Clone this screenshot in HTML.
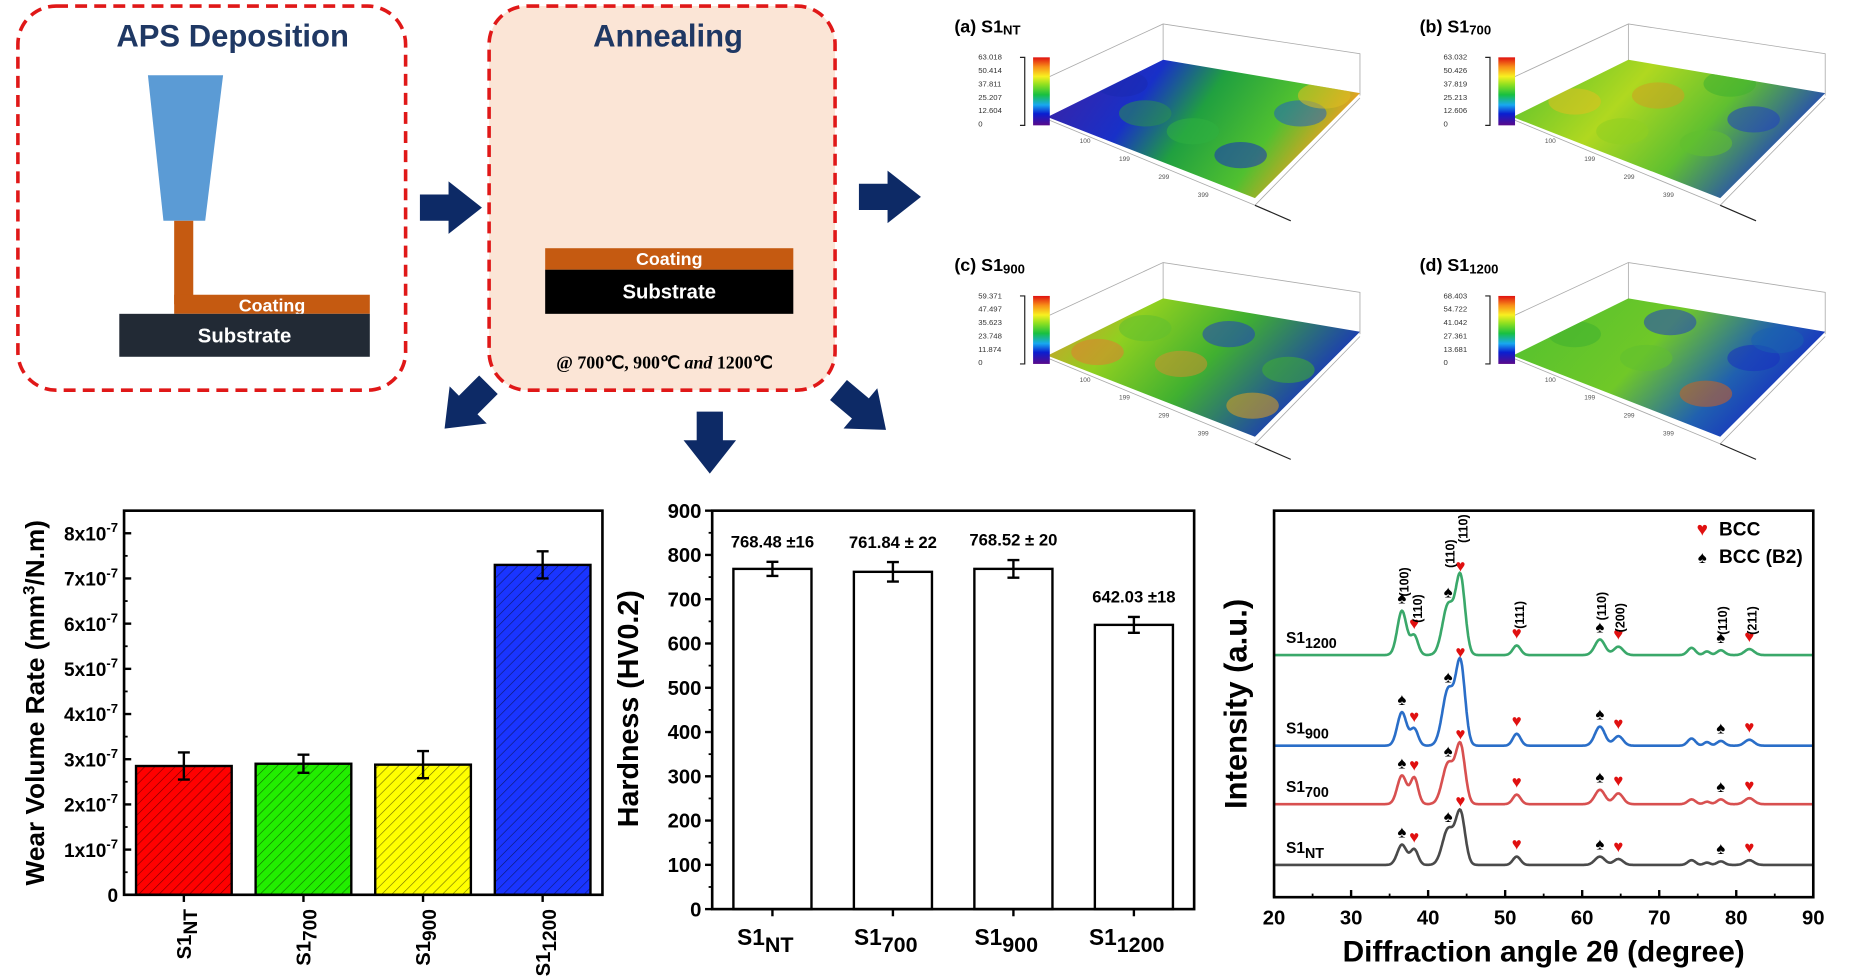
<!DOCTYPE html>
<html><head><meta charset="utf-8">
<style>
html,body{margin:0;padding:0;background:#fff;}
svg{display:block;font-family:"Liberation Sans",Arial,sans-serif;}
.b{font-weight:bold;}
</style></head>
<body>
<svg id="fig" width="1861" height="976" viewBox="0 0 1560 818" xmlns="http://www.w3.org/2000/svg">
<defs>
<pattern id="hatch" patternUnits="userSpaceOnUse" width="6" height="6" patternTransform="rotate(45)">
<line x1="0" y1="0" x2="0" y2="6" stroke="#000" stroke-width="1" opacity="0.55"/>
</pattern>
<linearGradient id="cbar" x1="0" y1="1" x2="0" y2="0">
<stop offset="0" stop-color="#5a0a8a"/><stop offset="0.17" stop-color="#0a1ed0"/><stop offset="0.3" stop-color="#18a8f0"/><stop offset="0.45" stop-color="#18c040"/><stop offset="0.6" stop-color="#90e020"/><stop offset="0.72" stop-color="#f8f020"/><stop offset="0.86" stop-color="#f89018"/><stop offset="1" stop-color="#e01010"/>
</linearGradient>
<linearGradient id="sa" x1="0" y1="0" x2="1" y2="0.3"><stop offset="0" stop-color="#4020a0"/><stop offset="0.35" stop-color="#1830c8"/><stop offset="0.55" stop-color="#20a040"/><stop offset="0.8" stop-color="#50c030"/><stop offset="1" stop-color="#f0a020"/></linearGradient>
<linearGradient id="sb" x1="0" y1="0" x2="1" y2="0.4"><stop offset="0" stop-color="#50c030"/><stop offset="0.4" stop-color="#b0d820"/><stop offset="0.7" stop-color="#60c030"/><stop offset="1" stop-color="#2040c0"/></linearGradient>
<linearGradient id="sc" x1="0" y1="0" x2="1" y2="0.4"><stop offset="0" stop-color="#e09030"/><stop offset="0.3" stop-color="#90d020"/><stop offset="0.6" stop-color="#40b030"/><stop offset="1" stop-color="#1830c0"/></linearGradient>
<linearGradient id="sd" x1="0" y1="0" x2="1" y2="0.4"><stop offset="0" stop-color="#50c030"/><stop offset="0.5" stop-color="#70c828"/><stop offset="0.8" stop-color="#2060b0"/><stop offset="1" stop-color="#1830c0"/></linearGradient>
<clipPath id="surfclip"><polygon points="878,98 975,50 1140,78 1052,166"/></clipPath>
</defs>

<g>
<rect x="15" y="5" width="325" height="322" rx="32" fill="#fff" stroke="#e01818" stroke-width="3" stroke-dasharray="10,6"/>
<text x="195" y="39" text-anchor="middle" font-size="26" class="b" fill="#1f3864">APS Deposition</text>
<polygon points="124,63 187,63 172,185 137,185" fill="#5b9bd5"/>
<rect x="146" y="185" width="16" height="70" fill="#c55a11"/>
<rect x="146" y="247" width="164" height="16" fill="#c55a11"/>
<text x="228" y="261" text-anchor="middle" font-size="15" class="b" fill="#fff">Coating</text>
<rect x="100" y="263" width="210" height="36" fill="#222a35"/>
<text x="205" y="287" text-anchor="middle" font-size="17" class="b" fill="#fff">Substrate</text>
</g>
<g>
<rect x="410" y="5" width="290" height="322" rx="32" fill="#fbe5d6" stroke="#e01818" stroke-width="3" stroke-dasharray="10,6"/>
<text x="560" y="39" text-anchor="middle" font-size="26" class="b" fill="#1f3864">Annealing</text>
<rect x="457" y="208" width="208" height="18" fill="#c55a11"/>
<text x="561" y="222" text-anchor="middle" font-size="15" class="b" fill="#fff">Coating</text>
<rect x="457" y="226" width="208" height="37" fill="#000"/>
<text x="561" y="250" text-anchor="middle" font-size="17" class="b" fill="#fff">Substrate</text>
<text x="557" y="309" text-anchor="middle" font-size="15" font-family="Liberation Serif,serif" font-weight="bold">@ 700℃, 900℃ <tspan font-style="italic">and</tspan> 1200℃</text>
</g>

<g fill="#0d2a66">
<polygon points="0,11 24,11 24,0 52,22 24,44 24,33 0,33" transform="translate(352,152)"/>
<polygon points="0,11 24,11 24,0 52,22 24,44 24,33 0,33" transform="translate(720,143)"/>
<polygon points="0,11 24,11 24,0 52,22 24,44 24,33 0,33" transform="translate(425,338) rotate(135)"/>
<polygon points="0,11 24,11 24,0 52,22 24,44 24,33 0,33" transform="translate(617,345) rotate(90)"/>
<polygon points="0,11 24,11 24,0 52,22 24,44 24,33 0,33" transform="translate(717,310) rotate(40)"/>
</g>

<g id="surfaces"></g>
<g id="wear"></g>
<g id="hard"></g>
<g id="xrd"></g>
</svg>

<script>
const wearCats = ["NT","700","900","1200"];
const wearVals = [2.85,2.90,2.88,7.30];
const wearErr = [0.30,0.20,0.30,0.30];
const wearTicks = [0,1,2,3,4,5,6,7,8];
const wearColors = ["#ff0000","#22ee00","#ffff00","#1a35ff"];
const hardCats = ["NT","700","900","1200"];
const hardVals = [768.48,761.84,768.52,642.03];
const hardErr = [16,22,20,18];
const hardLabels = ["768.48 \u00b116","761.84 \u00b1 22","768.52 \u00b1 20","642.03 \u00b118"];
const hardTicks = [0,100,200,300,400,500,600,700,800,900];
const xrdTicks = [20,30,40,50,60,70,80,90];
const xrdNames = ["1200","900","700","NT"];
const xrdColors = ["#3aa86a","#2a6ec8","#d85050","#4a4a4a"];
const xrdBase = [549,625,674,725];
const peakPos = [36.6,38.2,42.6,44.2,51.5,62.3,64.7,74.2,76.2,78.0,81.7];
const peakH1200 = [37,16,42,64,8,13,7,6,3,4,5];
const peakH900 = [28,14,47,68,10,16,8,6,3,4,5];
const peakH700 = [24,22,34,48,8,12,9,4,2,4,5];
const peakHNT = [17,13,30,43,7,7,5,4,2,3,4];
const surfLabels = [["(a) S1","NT"],["(b) S1","700"],["(c) S1","900"],["(d) S1","1200"]];
const surfMax = ["63.018","63.032","59.371","68.403"];

const NS="http://www.w3.org/2000/svg";
function mk(parent,tag,attrs,txt){const e=document.createElementNS(NS,tag);for(const k in attrs)e.setAttribute(k,attrs[k]);if(txt!==undefined)e.textContent=txt;parent.appendChild(e);return e;}

(function(){
 const g=document.getElementById('surfaces');
 const offs=[[0,0],[390,0],[0,200],[390,200]];
 const fills=["url(#sa)","url(#sb)","url(#sc)","url(#sd)"];
 const blobs=[
  [[940,70,"#1a2ab0"],[1000,110,"#30b040"],[1040,130,"#1830c0"],[1090,95,"#2060c0"],[960,95,"#2a9050"],[1110,80,"#e0c020"]],
  [[930,85,"#e0c020"],[1000,80,"#d0a020"],[1040,120,"#60c030"],[1080,100,"#2040c0"],[970,110,"#90d020"],[1060,70,"#40b030"]],
  [[920,95,"#e08030"],[990,105,"#d09030"],[1030,80,"#2040c0"],[1080,110,"#40b030"],[1050,140,"#e0a020"],[960,75,"#60c030"]],
  [[930,80,"#40b030"],[990,100,"#60c030"],[1040,130,"#d06020"],[1080,100,"#1830c0"],[1010,70,"#2040c0"],[1100,85,"#1a60b0"]]
 ];
 offs.forEach((o,i)=>{
  const pg=mk(g,'g',{transform:`translate(${o[0]},${o[1]})`});
  
  
  const t=mk(pg,'text',{x:800,y:27,'font-size':15,'font-weight':'bold'});
  t.textContent=surfLabels[i][0];
  mk(t,'tspan',{'font-size':11,dy:2},surfLabels[i][1]);
  mk(pg,'polyline',{points:"878,65 975,20 1140,45 1140,80",fill:"none",stroke:"#aaa","stroke-width":0.7});
  mk(pg,'line',{x1:975,y1:20,x2:975,y2:58,stroke:"#aaa","stroke-width":0.7});
  mk(pg,'line',{x1:878,y1:65,x2:878,y2:100,stroke:"#aaa","stroke-width":0.7});
  mk(pg,'polygon',{points:"878,98 975,50 1140,78 1052,166",fill:fills[i]});
  const bg=mk(pg,'g',{'clip-path':'url(#surfclip)'});
  blobs[i].forEach(b=>{mk(bg,'ellipse',{cx:b[0],cy:b[1],rx:22,ry:11,fill:b[2],opacity:0.55});});
  mk(pg,'polyline',{points:"878,100 1052,172 1140,82",fill:"none",stroke:"#aaa","stroke-width":0.7});
  mk(pg,'line',{x1:1052,y1:172,x2:1082,y2:185,stroke:"#222","stroke-width":1});
  mk(pg,'rect',{x:866,y:48,width:14,height:57,fill:"url(#cbar)"});
  mk(pg,'path',{d:"M855,48 h4 v57 h-4",fill:"none",stroke:"#222","stroke-width":1});
  [0,1,2,3,4,5].forEach(k=>{
   const lab = k===5?"0":(parseFloat(surfMax[i])*(5-k)/5).toFixed(3);
   mk(pg,'text',{x:820,y:50+k*11.2,'font-size':6.5,fill:"#333"},lab);
  });
  ["100","199","299","399"].forEach((v,k)=>{mk(pg,'text',{x:905+k*33,y:120+k*15,'font-size':5.5,fill:"#555"},v);});
 });
})();

(function(){
 const g=document.getElementById('wear');
 const L=104,R=505,T=428,B=750,ymax=8.5;
 const y=v=>B-(v/ymax)*(B-T);
 const xc=i=>L+(R-L)*(0.125+0.25*i);
 const bw=(R-L)*0.2;
 wearVals.forEach((v,i)=>{
  const r=mk(g,'rect',{x:xc(i)-bw/2,y:y(v),width:bw,height:B-y(v),fill:wearColors[i],stroke:"#000","stroke-width":2});
  
  
  mk(g,'rect',{x:xc(i)-bw/2,y:y(v),width:bw,height:B-y(v),fill:"url(#hatch)"});
  const e=mk(g,'path',{d:`M${xc(i)},${y(v+wearErr[i])}V${y(v-wearErr[i])}M${xc(i)-5},${y(v+wearErr[i])}h10M${xc(i)-5},${y(v-wearErr[i])}h10`,stroke:"#000","stroke-width":2,fill:"none"});
  
  
  const t=mk(g,'text',{transform:`translate(${xc(i)+6},${B+12}) rotate(-90)`,'text-anchor':'end','font-size':17,'font-weight':'bold'});
  
  
  t.textContent="S1";
  mk(t,'tspan',{dy:5,'font-size':16},wearCats[i]);
 });
 mk(g,'rect',{x:L,y:T,width:R-L,height:B-T,fill:"none",stroke:"#000","stroke-width":2.2});
 wearTicks.forEach(v=>{
  mk(g,'line',{x1:L,x2:L+6,y1:y(v),y2:y(v),stroke:"#000","stroke-width":2});
  mk(g,'line',{x1:L,x2:L+3,y1:y(v+0.5),y2:y(v+0.5),stroke:"#000","stroke-width":1.5});
  const t=mk(g,'text',{x:L-5,y:y(v)+6,'text-anchor':'end','font-size':16,'font-weight':'bold'});
  
  
  if(v===0){t.textContent="0";}else{t.textContent=v+"x10";mk(t,'tspan',{dy:-7,'font-size':11},"-7");}
 });
 wearCats.forEach((c,i)=>{mk(g,'line',{x1:xc(i),x2:xc(i),y1:B,y2:B+6,stroke:"#000","stroke-width":2});});
 const yt=mk(g,'text',{transform:"translate(37,589) rotate(-90)",'text-anchor':'middle','font-size':22,'font-weight':'bold'});
 
 
 yt.textContent="Wear Volume Rate (mm";
 mk(yt,'tspan',{dy:-8,'font-size':14},"3");
 mk(yt,'tspan',{dy:8},"/N.m)");
})();

(function(){
 const g=document.getElementById('hard');
 const L=597,R=1001,T=428,B=762,ymax=900;
 const y=v=>B-(v/ymax)*(B-T);
 const xc=i=>L+(R-L)*(0.125+0.25*i);
 const bw=(R-L)*0.162;
 hardVals.forEach((v,i)=>{
  const r=mk(g,'rect',{x:xc(i)-bw/2,y:y(v),width:bw,height:B-y(v),fill:"#fff",stroke:"#000","stroke-width":2});
  
  
  const e=mk(g,'path',{d:`M${xc(i)},${y(v+hardErr[i])}V${y(v-hardErr[i])}M${xc(i)-5},${y(v+hardErr[i])}h10M${xc(i)-5},${y(v-hardErr[i])}h10`,stroke:"#000","stroke-width":2,fill:"none"});
  
  
  const vl=mk(g,'text',{x:xc(i),y:y(v+hardErr[i])-12,'text-anchor':'middle','font-size':14,'font-weight':'bold'},hardLabels[i]);
  
  
  const t=mk(g,'text',{x:xc(i)-6,y:B+30,'text-anchor':'middle','font-size':19,'font-weight':'bold'});
  
  
  t.textContent="S1";
  mk(t,'tspan',{dy:6,'font-size':18},hardCats[i]);
  mk(g,'line',{x1:xc(i),x2:xc(i),y1:B,y2:B+6,stroke:"#000","stroke-width":2});
 });
 mk(g,'rect',{x:L,y:T,width:R-L,height:B-T,fill:"none",stroke:"#000","stroke-width":2.2});
 hardTicks.forEach(v=>{
  mk(g,'line',{x1:L-6,x2:L,y1:y(v),y2:y(v),stroke:"#000","stroke-width":2});
  if(v<900)mk(g,'line',{x1:L-3,x2:L,y1:y(v+50),y2:y(v+50),stroke:"#000","stroke-width":1.5});
  const t=mk(g,'text',{x:L-9,y:y(v)+6,'text-anchor':'end','font-size':17,'font-weight':'bold'},String(v));
  
  
 });
 const yt=mk(g,'text',{transform:"translate(535,594) rotate(-90)",'text-anchor':'middle','font-size':24,'font-weight':'bold'});
 
 
 yt.textContent="Hardness (HV0.2)";
})();

(function(){
 const g=document.getElementById('xrd');
 const L=1068,R=1520,T=428,B=752;
 const x=v=>L+(v-20)/70*(R-L);
 const heights=[peakH1200,peakH900,peakH700,peakHNT];
 const widths=[0.6,0.5,0.75,0.6,0.5,0.65,0.6,0.5,0.4,0.5,0.6];
 heights.forEach((hs,s)=>{
  let d="";
  for(let k=0;k<=700;k++){
   const tt=20+k*0.1;
   let v=0;
   peakPos.forEach((p,j)=>{v+=hs[j]*Math.exp(-((tt-p)*(tt-p))/(2*widths[j]*widths[j]));});
   d+=(k?"L":"M")+x(tt).toFixed(1)+","+(xrdBase[s]-v).toFixed(1);
  }
  const p=mk(g,'path',{d:d,fill:"none",stroke:xrdColors[s],"stroke-width":2.2});
  
  
  const t=mk(g,'text',{x:1078,y:xrdBase[s]-10,'font-size':13,'font-weight':'bold'});
  
  
  t.textContent="S1";
  mk(t,'tspan',{dy:4,'font-size':12},xrdNames[s]);
  const marks=[[0,"s"],[1,"h"],[2,"s"],[3,"h"],[4,"h"],[5,"s"],[6,"h"],[9,"s"],[10,"h"]];
  marks.forEach(m=>{
   const j=m[0];
   const yy=xrdBase[s]-hs[j]-6;
   const mm=mk(g,'text',{x:x(peakPos[j]),y:yy,'text-anchor':'middle','font-size':14,fill:m[1]==="h"?"#e01010":"#000"},m[1]==="h"?"\u2665":"\u2660");
   
   
  });
 });
 const miller=[[36.8,"(100)",500],[38.6,"(110)",522],[42.8,"(110)",476],[44.5,"(110)",455],[51.8,"(111)",527],[62.5,"(110)",520],[64.9,"(200)",530],[78.2,"(110)",532],[82.0,"(211)",532]];
 miller.forEach(m=>{
  const t=mk(g,'text',{transform:`translate(${x(m[0])+4},${m[2]}) rotate(-90)`,'font-size':10.5,'font-weight':'bold'},m[1]);
  
  
 });
 mk(g,'rect',{x:L,y:T,width:R-L,height:B-T,fill:"none",stroke:"#000","stroke-width":2.2});
 xrdTicks.forEach(v=>{
  mk(g,'line',{x1:x(v),x2:x(v),y1:B,y2:B-6,stroke:"#000","stroke-width":2});
  if(v<90)mk(g,'line',{x1:x(v+5),x2:x(v+5),y1:B,y2:B-3,stroke:"#000","stroke-width":1.5});
  const t=mk(g,'text',{x:x(v),y:B+23,'text-anchor':'middle','font-size':17,'font-weight':'bold'},String(v));
  
  
 });
 const xt=mk(g,'text',{x:1294,y:806,'text-anchor':'middle','font-size':25,'font-weight':'bold'},"Diffraction angle 2\u03b8 (degree)");
 
 
 const yt=mk(g,'text',{transform:"translate(1045,590) rotate(-90)",'text-anchor':'middle','font-size':26,'font-weight':'bold'},"Intensity (a.u.)");
 
 
 const lg=mk(g,'g',{});
 
 
 mk(lg,'text',{x:1427,y:449,'text-anchor':'middle','font-size':16,fill:"#e01010"},"\u2665");
 mk(lg,'text',{x:1441,y:449,'font-size':16,'font-weight':'bold'},"BCC");
 mk(lg,'text',{x:1427,y:472,'text-anchor':'middle','font-size':14},"\u2660");
 mk(lg,'text',{x:1441,y:472,'font-size':16,'font-weight':'bold'},"BCC (B2)");
})();
</script>
</body></html>
